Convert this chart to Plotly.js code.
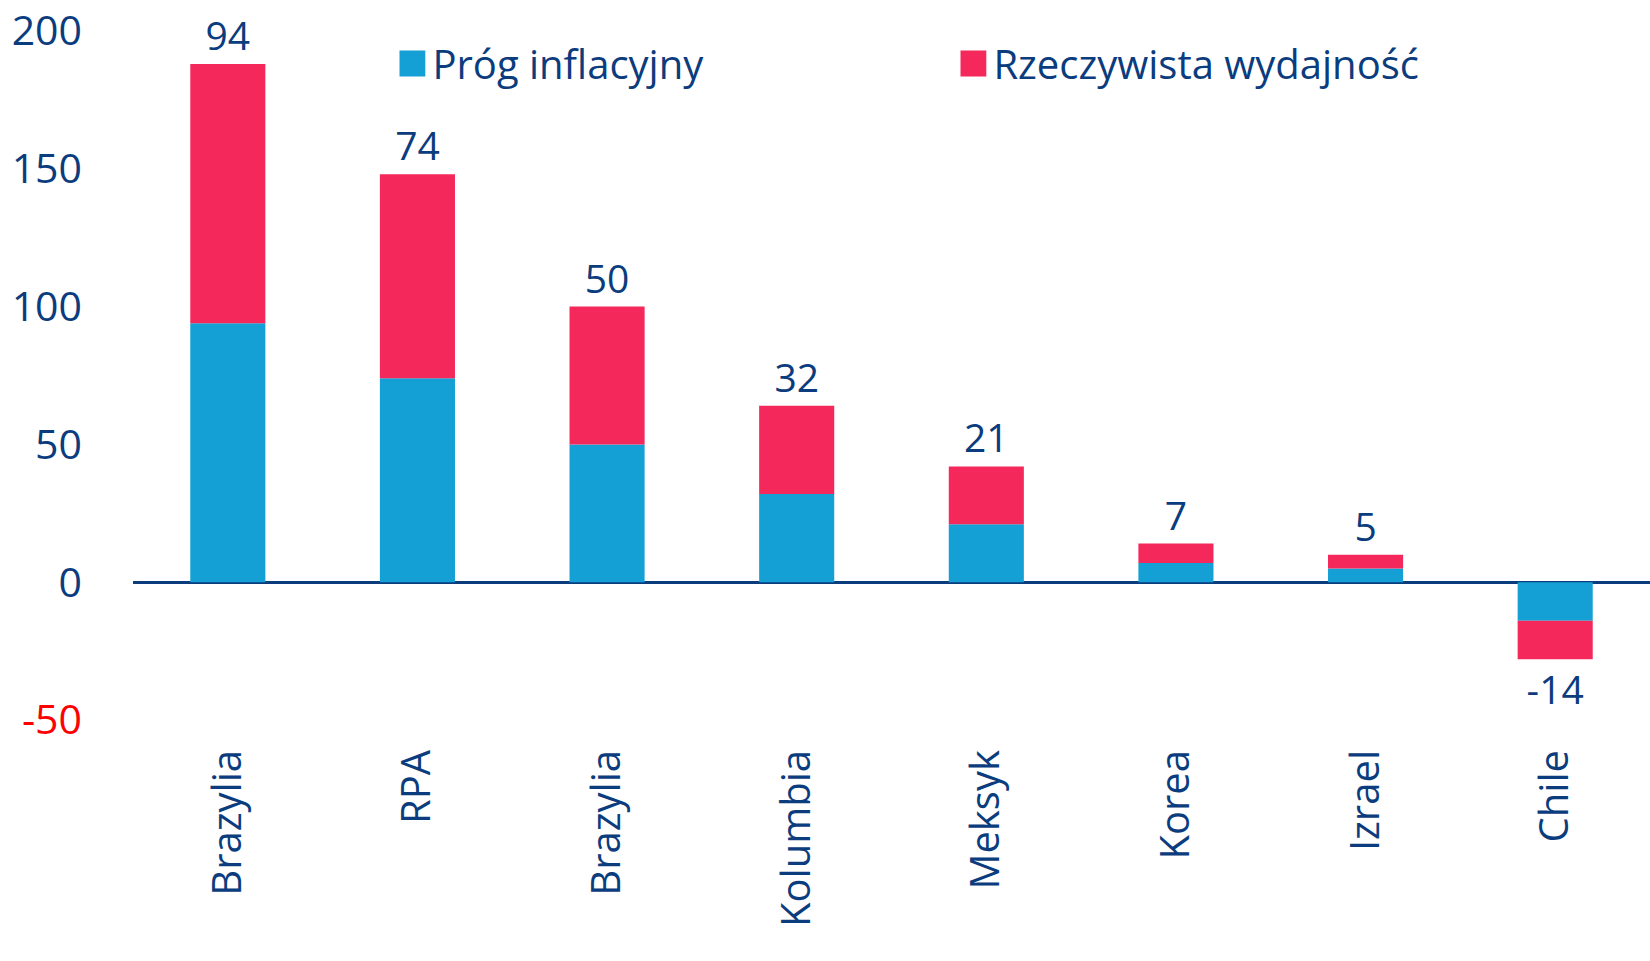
<!DOCTYPE html>
<html>
<head>
<meta charset="utf-8">
<script src="https://cdn.plot.ly/plotly-3.0.1.min.js"></script>
<style>
    html, body { margin: 0; padding: 0; background: #ffffff; }
    #chart { width: 1650px; height: 961px; }
</style>
</head>
<body>
<div id="chart"></div>
<script>
// kolory
const NAVY = '#0b3c7d';
const BLUE = '#14a0d4';
const RED = '#f4285a';

// dane
const countries = ['Brazylia', 'RPA', 'Brazylia', 'Kolumbia', 'Meksyk', 'Korea', 'Izrael', 'Chile'];
const progInflacyjny = [94, 74, 50, 32, 21, 7, 5, -14];
const rzeczywistaWydajnosc = [94, 74, 50, 32, 21, 7, 5, -14];
const yTicks = [-50, 0, 50, 100, 150, 200];

// pozycje kategorii (nazwy sie powtarzaja, wiec indeksy)
const positions = countries.map((c, i) => i);

const textFont = "'Open Sans', sans-serif";

const trace1 = {
    x: positions,
    y: progInflacyjny,
    name: 'Próg inflacyjny',
    type: 'bar',
    marker: { color: BLUE },
    hoverinfo: 'skip'
};

const trace2 = {
    x: positions,
    y: rzeczywistaWydajnosc,
    name: 'Rzeczywista wydajność',
    type: 'bar',
    marker: { color: RED },
    text: progInflacyjny.map(v => String(v)),
    textposition: 'outside',
    constraintext: 'none',
    cliponaxis: false,
    textfont: { family: textFont, size: 39, color: NAVY },
    hoverinfo: 'skip'
};

const layout = {
    width: 1650,
    height: 961,
    barmode: 'relative',
    bargap: 0.604,
    margin: { t: 31, r: 0, b: 241, l: 133 },
    paper_bgcolor: '#ffffff',
    plot_bgcolor: '#ffffff',
    showlegend: true,
    legend: {
        orientation: 'h',
        x: 0.171,
        xanchor: 'left',
        y: 1.0,
        yanchor: 'top',
        entrywidth: 516,
        font: { family: textFont, size: 40, color: NAVY },
        bgcolor: 'rgba(0,0,0,0)',
        traceorder: 'normal'
    },
    xaxis: {
        range: [-0.5, 7.5],
        tickvals: positions,
        ticktext: countries,
        tickangle: -90,
        showgrid: false,
        zeroline: false,
        showline: false,
        ticks: '',
        ticklabelstandoff: 21,
        tickfont: { family: textFont, size: 40, color: NAVY }
    },
    yaxis: {
        range: [-50, 200],
        tickvals: yTicks,
        ticktext: yTicks.map(v => v < 0 ? '<span style="color:#ff0000">' + v + '</span>' : String(v)),
        ticklabeloverflow: 'allow',
        showgrid: false,
        zeroline: true,
        zerolinecolor: NAVY,
        zerolinewidth: 3,
        showline: false,
        ticks: '',
        ticklabelstandoff: 50,
        tickfont: { family: textFont, size: 41, color: NAVY }
    }
};

Plotly.newPlot('chart', [trace1, trace2], layout, { displayModeBar: false, staticPlot: true }).then(function(gd) {
    // wieksze kwadraty w legendzie
    gd.querySelectorAll('.legend .legendpoints path').forEach(function(p) {
        const t = p.getAttribute('transform') || '';
        p.setAttribute('transform', t + ' scale(2.15)');
    });
});
</script>
</body>
</html>
